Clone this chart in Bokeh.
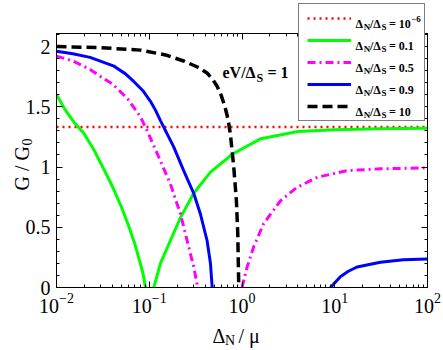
import math
from bokeh.plotting import figure
from bokeh.models import (Range1d, LinearAxis, LogAxis, SingleIntervalTicker, FixedTicker,
                          NumeralTickFormatter, LogTickFormatter, CustomJSTickFormatter,
                          Legend, LegendItem, Label)
from bokeh.embed import file_html
from bokeh.resources import INLINE

# ---------------- data ----------------
x_ticks = [0.01, 0.1, 1, 10, 100]
y_ticks_interval = 0.5

# Delta_N/Delta_S = 1e-6 (dotted red)
x_r = [0.01, 100]
y_r = [1.333, 1.333]

# Delta_N/Delta_S = 0.1 (green), two branches
x_g1 = [0.01, 0.0125, 0.0155, 0.0197, 0.025, 0.032, 0.04, 0.05, 0.06, 0.07, 0.08, 0.086, 0.091]
y_g1 = [1.60, 1.47, 1.37, 1.28, 1.15, 0.99, 0.84, 0.67, 0.51, 0.36, 0.20, 0.11, 0.0]
x_g2 = [0.112, 0.132, 0.169, 0.217, 0.30, 0.46, 0.8, 1.6, 4.0, 10, 30, 100]
y_g2 = [0.0, 0.20, 0.39, 0.58, 0.78, 0.96, 1.11, 1.235, 1.295, 1.31, 1.318, 1.321]

# Delta_N/Delta_S = 0.5 (magenta dash-dot)
x_m1 = [0.01, 0.015, 0.023, 0.03, 0.04, 0.058, 0.08, 0.095, 0.122, 0.169, 0.217, 0.256, 0.302, 0.333]
y_m1 = [1.92, 1.88, 1.81, 1.75, 1.69, 1.57, 1.42, 1.30, 1.11, 0.86, 0.61, 0.39, 0.17, 0.0]
x_m2 = [1.0, 1.135, 1.34, 1.71, 2.6, 3.9, 6.5, 13.6, 31, 100]
y_m2 = [0.0, 0.17, 0.34, 0.53, 0.72, 0.83, 0.915, 0.97, 0.985, 0.993]

# Delta_N/Delta_S = 0.9 (blue)
x_b1 = [0.01, 0.015, 0.023, 0.041, 0.055, 0.068, 0.085, 0.103, 0.117, 0.132, 0.184, 0.235,
        0.302, 0.356, 0.42, 0.457, 0.477]
y_b1 = [1.96, 1.94, 1.91, 1.84, 1.775, 1.71, 1.635, 1.545, 1.47, 1.385, 1.165, 0.97,
        0.78, 0.61, 0.39, 0.20, 0.0]
x_b2 = [9.0, 11.5, 14, 17.4, 31, 55, 100]
y_b2 = [0.0, 0.09, 0.135, 0.17, 0.21, 0.23, 0.237]

# Delta_N/Delta_S = 10 (black dashed)
x_k = [0.01, 0.03, 0.08, 0.15, 0.235, 0.33, 0.42, 0.48, 0.54, 0.60, 0.66, 0.71, 0.75, 0.815,
       0.87, 0.90, 0.923]
y_k = [2.0, 1.99, 1.97, 1.93, 1.88, 1.83, 1.78, 1.73, 1.67, 1.59, 1.49, 1.39, 1.27, 1.0,
       0.72, 0.45, 0.0]

legend_values = ["10", "0.1", "0.5", "0.9", "10"]

SERIF = "Liberation Serif"
W, H = 443, 350

RED = dict(line_color="#ff0000", line_width=2.5, line_dash="2 4")
GREEN = dict(line_color="#00ff00", line_width=3)
MAG = dict(line_color="#ff00ff", line_width=3, line_dash="8 4 2 4")
BLUE = dict(line_color="#0000ff", line_width=3)
BLACK = dict(line_color="black", line_width=3.5, line_dash="10 5")

# ---------------- main figure ----------------
p = figure(width=W, height=H, x_axis_type="log",
           x_range=Range1d(0.01, 100), y_range=Range1d(0, 2.108),
           output_backend="svg", toolbar_location=None,
           min_border_left=56, min_border_right=16, min_border_top=33, min_border_bottom=63)
p.grid.visible = False
p.outline_line_color = "black"
p.outline_line_width = 1
p.background_fill_color = "white"
p.border_fill_color = "white"

xt = FixedTicker(ticks=x_ticks, minor_ticks=[m * d for d in [0.01, 0.1, 1, 10] for m in range(2, 10)])
yt = SingleIntervalTicker(interval=y_ticks_interval, num_minor_ticks=5)


def style_axis(ax):
    ax.axis_line_color = "black"
    ax.major_tick_in = 6
    ax.major_tick_out = 0
    ax.minor_tick_in = 3
    ax.minor_tick_out = 0
    ax.major_tick_line_color = "black"
    ax.minor_tick_line_color = "black"
    ax.major_label_text_font = SERIF
    ax.major_label_text_font_size = "20px"
    ax.major_label_text_color = "black"


xa = p.xaxis[0]
xa.ticker = xt
xa.formatter = LogTickFormatter()
style_axis(xa)
xa.major_label_standoff = 5

ya = p.yaxis[0]
ya.ticker = yt
ya.formatter = NumeralTickFormatter(format="0.[0]")
style_axis(ya)
ya.major_label_standoff = 6

empty = CustomJSTickFormatter(code="return ''")
top = LogAxis(ticker=xt, formatter=empty)
style_axis(top)
top.major_label_text_color = None
top.major_label_standoff = 0
right = LinearAxis(ticker=yt, formatter=empty)
style_axis(right)
right.major_label_text_color = None
right.major_label_standoff = 0
p.add_layout(top, "above")
p.add_layout(right, "right")

p.line(x_r, y_r, **RED)
p.line(x_g1, y_g1, **GREEN)
p.line(x_g2, y_g2, **GREEN)
p.line(x_m1, y_m1, **MAG)
p.line(x_m2, y_m2, **MAG)
p.line(x_b1, y_b1, **BLUE)
p.line(x_b2, y_b2, **BLUE)
p.line(x_k, y_k, **BLACK)


def overlay():
    f = figure(width=W, height=H, x_range=Range1d(-2, -1), y_range=Range1d(-2, -1),
               output_backend="svg", toolbar_location=None,
               x_axis_location=None, y_axis_location=None,
               min_border=0, min_border_left=0, min_border_right=0, min_border_top=0,
               min_border_bottom=0, margin=(-H, 0, 0, 0))
    f.grid.visible = False
    f.outline_line_color = None
    f.background_fill_alpha = 0
    f.border_fill_alpha = 0
    return f


# ---------------- overlay 1: legend (it may reach above the frame, as in the reference) ----------------
q = overlay()
# the same series, styled as in the main plot; this overlay's ranges show none of their points
s_red = q.line(x_r, y_r, **RED)
s_green = q.line(x_g1, y_g1, **GREEN)
s_mag = q.line(x_m1, y_m1, **MAG)
s_blue = q.line(x_b1, y_b1, **BLUE)
s_black = q.line(x_k, y_k, **BLACK)

legend = Legend(items=[LegendItem(label="", renderers=[r]) for r in [s_red, s_green, s_mag, s_blue, s_black]],
                location=(298, H - 121),
                glyph_width=44, glyph_height=12, label_width=60, label_height=12,
                label_standoff=5, spacing=10, padding=8, margin=0,
                label_text_font_size="10px",
                border_line_color="black", border_line_width=1,
                background_fill_color="white", background_fill_alpha=1.0)
q.add_layout(legend, "center")

# ---------------- overlay 2: all texts ----------------
t = overlay()


def put(text, px, py, size, bold=False, angle=0.0):
    t.add_layout(Label(x=px, y=H - py, x_units="screen", y_units="screen", text=text,
                       text_font=SERIF, text_font_size=f"{size}px",
                       text_font_style="bold" if bold else "normal", text_color="black",
                       text_align="left", text_baseline="alphabetic", angle=angle))


row_centers = [19, 41, 63, 85, 107]
for i, (yc, val) in enumerate(zip(row_centers, legend_values)):
    base = yc + 4.5
    put("\u0394", 355, base, 12, True)
    put("N", 363.3, base + 3, 9, True)
    put("/\u0394", 369.5, base, 12, True)
    put("S", 381, base + 3, 9, True)
    put("= " + val, 388.5, base, 12, True)
    if i == 0:
        put("\u22126", 410.5, base - 5, 9, True)

# annotation eV/Delta_S = 1
put("eV/\u0394", 222, 72, 16, True)
put("S", 256, 77, 12, True)
put("= 1", 267, 72, 16, True)

# x axis label: Delta_N / mu
put("\u0394", 212, 335, 20)
put("N", 224.5, 340, 14)
put("/ \u03bc", 238, 335, 20)

# y axis label: G / G_0 (rotated)
put("G / G", 21, 190, 20, angle=math.pi / 2)
put("0", 26, 145, 14, angle=math.pi / 2)

open("out.html", "w").write(file_html([p, q, t], INLINE))
